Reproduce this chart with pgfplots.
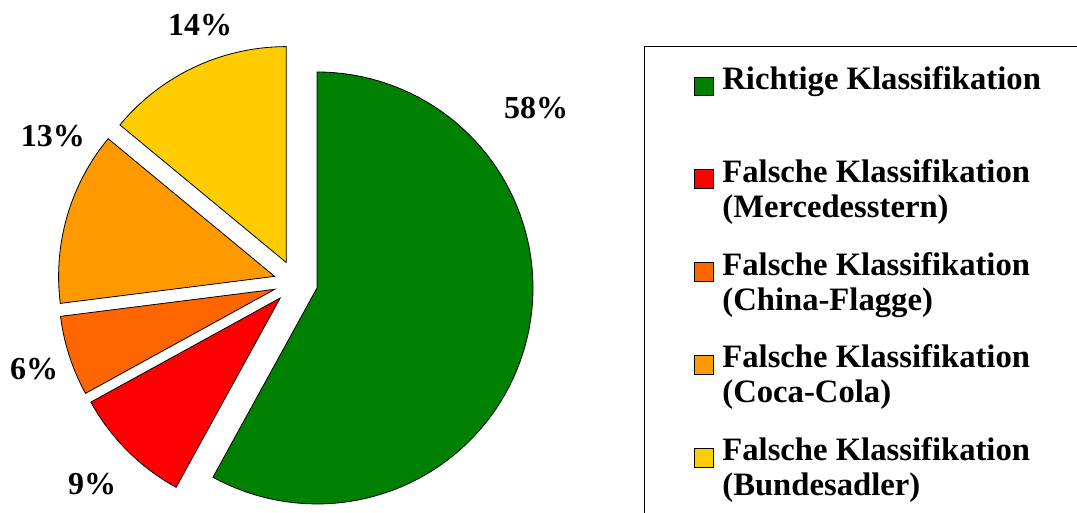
\documentclass[border=0pt]{standalone}
\usepackage{pgfplots}
\pgfplotsset{compat=1.18}
\usepackage{fontspec}
\setmainfont{Liberation Serif}
\definecolor{cGreen}{HTML}{008000}
\definecolor{cRed}{HTML}{FF0000}
\definecolor{cOrRed}{HTML}{FF6600}
\definecolor{cOrange}{HTML}{FF9900}
\definecolor{cYellow}{HTML}{FFCC00}
% shares (percent): 58, 9, 6, 13, 14 -> 3.6 degrees per percent, clockwise from 90 deg
\begin{document}
\begin{tikzpicture}
\begin{axis}[
  x=0.75pt, y=0.75pt, xmin=0, xmax=1077, ymin=0, ymax=513,
  scale only axis, hide axis, clip=true,
  legend cell align=left,
  legend style={at={(axis cs:694,451)}, anchor=north west, draw=none, fill=none,
    inner sep=0pt, row sep=19.5pt, cells={align=left},
    font=\fontsize{24.5}{26.25}\selectfont\bfseries,
    /tikz/every odd column/.append style={column sep=4.5pt}},
  legend image code/.code={\draw[#1,draw=black,line width=0.6pt] (0pt,0pt) rectangle (14pt,14pt);},
]
\path (axis cs:0,0) rectangle (axis cs:1077,513);
\addplot[fill=cGreen, draw=black, line width=0.6pt, domain=-118.8:90, samples=90, variable=\t]
  ({317.01+216*cos(\t)}, {225.03+216*sin(\t)}) -- (axis cs:317.01,225.03) -- cycle;
\addlegendentry{\strut Richtige Klassifikation\\\strut}
\addplot[fill=cRed, draw=black, line width=0.6pt, domain=-151.2:-118.8, samples=20, variable=\t]
  ({280.14+216*cos(\t)}, {214.94+216*sin(\t)}) -- (axis cs:280.14,214.94) -- cycle;
\addlegendentry{\strut Falsche Klassifikation\\\strut (Mercedesstern)}
\addplot[fill=cOrRed, draw=black, line width=0.6pt, domain=-172.8:-151.2, samples=15, variable=\t]
  ({274.78+216*cos(\t)}, {223.70+216*sin(\t)}) -- (axis cs:274.78,223.70) -- cycle;
\addlegendentry{\strut Falsche Klassifikation\\\strut (China-Flagge)}
\addplot[fill=cOrange, draw=black, line width=0.6pt, domain=-219.6:-172.8, samples=25, variable=\t]
  ({274.57+216*cos(\t)}, {236.64+216*sin(\t)}) -- (axis cs:274.57,236.64) -- cycle;
\addlegendentry{\strut Falsche Klassifikation\\\strut (Coca-Cola)}
\addplot[fill=cYellow, draw=black, line width=0.6pt, domain=-270:-219.6, samples=25, variable=\t]
  ({286.33+216*cos(\t)}, {250.41+216*sin(\t)}) -- (axis cs:286.33,250.41) -- cycle;
\addlegendentry{\strut Falsche Klassifikation\\\strut (Bundesadler)}
\draw[black, line width=0.75pt] (axis cs:644,0) -- (axis cs:644,466) -- (axis cs:1077,466);
\begin{scope}[every node/.style={font=\fontsize{24}{28}\selectfont\bfseries, anchor=base, inner sep=0pt}]
\node at (axis cs:536,394) {58\%};
\node at (axis cs:200,477) {14\%};
\node at (axis cs:53,366) {13\%};
\node at (axis cs:34,133) {6\%};
\node at (axis cs:92,18) {9\%};
\end{scope}
\end{axis}
\end{tikzpicture}
\end{document}
